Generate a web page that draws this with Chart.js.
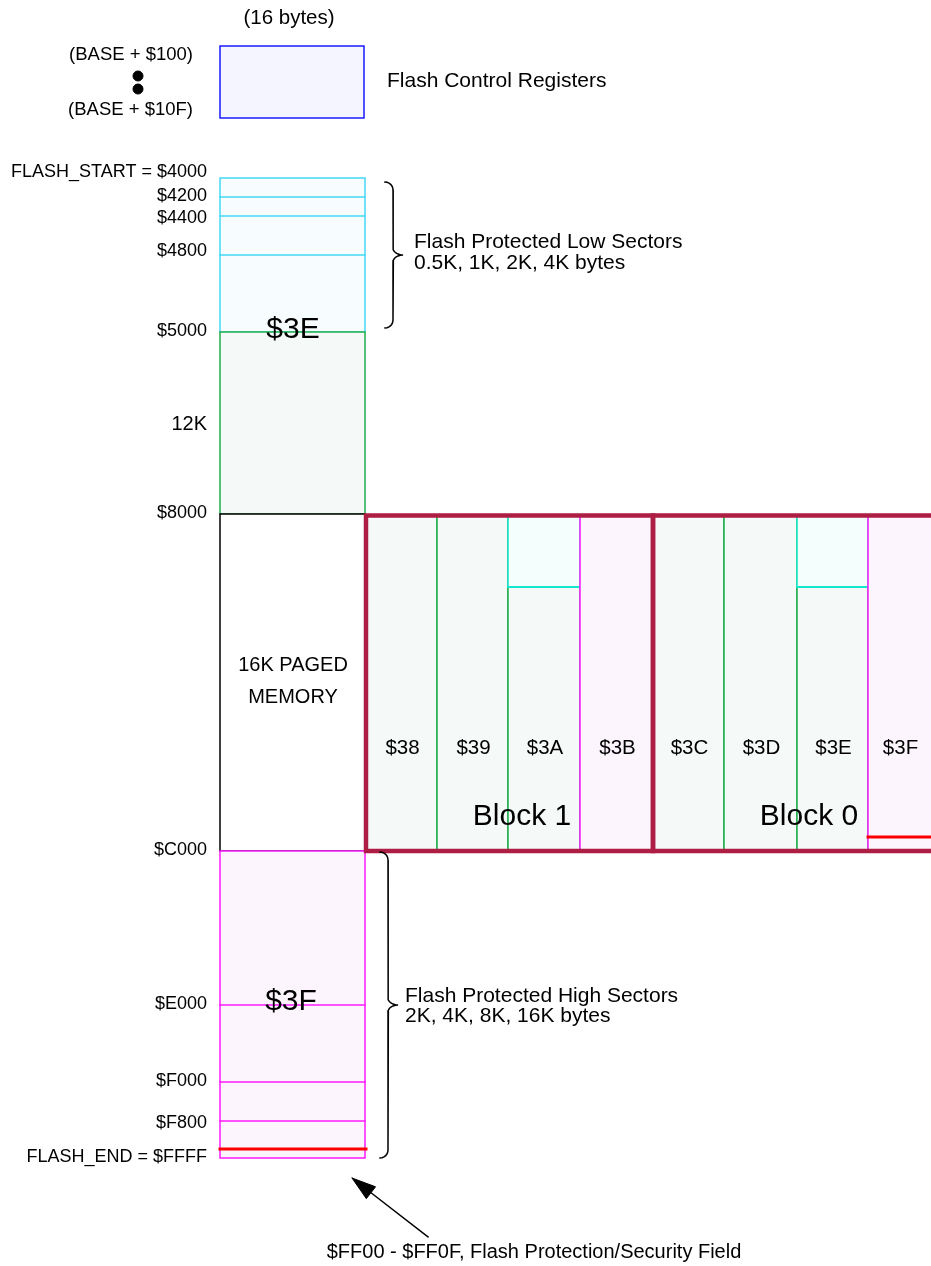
<!DOCTYPE html>
<html>
<head>
<meta charset="utf-8">
<script src="https://cdn.jsdelivr.net/npm/chart.js@4.4.1/dist/chart.umd.min.js"></script>
<style>
    html, body { margin: 0; padding: 0; background: #fff; }
    #wrap { width: 931px; height: 1266px; }
</style>
</head>
<body>
<div id="wrap"><canvas id="map" width="931" height="1266"></canvas></div>
<script>
// Flash memory map - drawn on a 931 x 1266 diagram grid (x right, y down)

// Left column address labels and the rows they sit on
const addrLabels = ['FLASH_START = $4000', '$4200', '$4400', '$4800', '$5000', '12K', '$8000',
    '$C000', '$E000', '$F000', '$F800', 'FLASH_END = $FFFF'];
const addrRows = [172, 196, 218, 251, 331, 424, 513, 850, 1004, 1081, 1123, 1157];

// Sector boundaries of the fixed window
const registerRows = [46, 118];
const lowSectorRows = [178, 197, 216, 255, 332];   // $4000 $4200 $4400 $4800 $5000
const fixedRows = [332, 514];                      // $5000 .. $8000
const pagedRows = [514, 851];                      // $8000 .. $C000
const highSectorRows = [851, 1005, 1082, 1121, 1158]; // $C000 $E000 $F000 $F800 $FFFF
const securityRow = 1149;
const mainCol = [220, 365];

// Paged window pages
const pageNames = ['$38', '$39', '$3A', '$3B', '$3C', '$3D', '$3E', '$3F'];
const pageKinds = ['fixed', 'fixed', 'split', 'high', 'fixed', 'fixed', 'split', 'high'];
const pageEdges = [366, 437, 508, 580, 653, 724, 797, 868, 942];
const pageRows = [516, 851];
const pageSplitRow = 587;
const pageSecurityRow = 837;
const blockNames = ['Block 1', 'Block 0'];
const blockEdges = [366, 653, 942];

const COLORS = {
    blue: '#1a1aff', blueFill: '#f5f5ff',
    cyan: '#45d8f6', cyanFill: '#f7fcfe',
    teal: '#12e6cc', tealFill: '#f4fffd',
    green: '#1fae4e', greenFill: '#f5f9f7',
    magenta: '#ff1aff', magentaFill: '#fdf5fd',
    frame: '#ae1d44',
    red: '#ff0000',
    ink: '#000000'
};
const FONT = '"Liberation Sans", Arial, Helvetica, sans-serif';

// ---- mark builders ----
function box(x0, x1, y0, y1, stroke, fillColor, width) {
    return {
        data: [{x: x0, y: y0}, {x: x1, y: y0}, {x: x1, y: y1}, {x: x0, y: y1}, {x: x0, y: y0}],
        borderColor: stroke || 'rgba(0,0,0,0)',
        borderWidth: width || 1,
        backgroundColor: fillColor || 'rgba(0,0,0,0)',
        fill: fillColor ? 'shape' : false
    };
}

function rule(x0, y0, x1, y1, color, width) {
    return {
        data: [{x: x0, y: y0}, {x: x1, y: y1}],
        borderColor: color,
        borderWidth: width || 1,
        fill: false
    };
}

// curly brace opening to the right, tip at the middle
function brace(left, spine, tipX, top, bottom) {
    const mid = (top + bottom) / 2;
    const r = spine - left, rx = tipX - spine, ry = 7;
    const pts = [];
    const steps = 6;
    for (let i = 0; i <= steps; i++) {
        const a = -Math.PI / 2 + (Math.PI / 2) * i / steps;
        pts.push({x: left + r * Math.cos(a), y: top + r + r * Math.sin(a)});
    }
    for (let i = 0; i <= steps; i++) {
        const a = Math.PI - (Math.PI / 2) * i / steps;
        pts.push({x: tipX + rx * Math.cos(a), y: mid - ry + ry * Math.sin(a)});
    }
    for (let i = 1; i <= steps; i++) {
        const a = 1.5 * Math.PI - (Math.PI / 2) * i / steps;
        pts.push({x: tipX + rx * Math.cos(a), y: mid + ry + ry * Math.sin(a)});
    }
    for (let i = 0; i <= steps; i++) {
        const a = (Math.PI / 2) * i / steps;
        pts.push({x: left + r * Math.cos(a), y: bottom - r + r * Math.sin(a)});
    }
    return {data: pts, borderColor: COLORS.ink, borderWidth: 1.5, fill: false};
}

function arrow(tail, tip, headLen, headHalf) {
    const dx = tip.x - tail.x, dy = tip.y - tail.y;
    const len = Math.hypot(dx, dy);
    const ux = dx / len, uy = dy / len;
    const base = {x: tip.x - ux * headLen, y: tip.y - uy * headLen};
    const head = [
        tip,
        {x: base.x - uy * headHalf, y: base.y + ux * headHalf},
        {x: base.x + uy * headHalf, y: base.y - ux * headHalf},
        tip
    ];
    return [
        {data: [tail, base], borderColor: COLORS.ink, borderWidth: 1.5, fill: false},
        {data: head, borderColor: COLORS.ink, borderWidth: 1, backgroundColor: COLORS.ink, fill: 'shape'}
    ];
}

// ---- assemble marks in painter's order (first = bottom) ----
const marks = [];
const [cx0, cx1] = mainCol;

// register block
marks.push(box(cx0, cx1 - 1, registerRows[0], registerRows[1], COLORS.blue, COLORS.blueFill, 1.5));

// low protected sectors
marks.push(box(cx0, cx1, lowSectorRows[0], lowSectorRows[lowSectorRows.length - 1], COLORS.cyan, COLORS.cyanFill, 1.5));
lowSectorRows.slice(1, -1).forEach(r => marks.push(rule(cx0, r, cx1, r, COLORS.cyan, 1.5)));

// fixed $3E remainder
marks.push(box(cx0, cx1, fixedRows[0], fixedRows[1], COLORS.green, COLORS.greenFill, 1.5));

// paged window
marks.push(box(cx0, cx1, pagedRows[0], pagedRows[1], COLORS.ink, '#ffffff', 1.5));

// high protected sectors ($3F)
marks.push(box(cx0, cx1, highSectorRows[0], highSectorRows[highSectorRows.length - 1], COLORS.magenta, COLORS.magentaFill, 1.5));
highSectorRows.slice(1, -1).forEach(r => marks.push(rule(cx0, r, cx1, r, COLORS.magenta, 1.5)));
marks.push(rule(cx0, securityRow, cx1 + 1, securityRow, COLORS.red, 3));

// pages $38..$3F
pageNames.forEach((name, i) => {
    const x0 = pageEdges[i], x1 = pageEdges[i + 1];
    const kind = pageKinds[i];
    if (kind === 'fixed') {
        marks.push(box(x0, x1, pageRows[0], pageRows[1], COLORS.green, COLORS.greenFill, 1.5));
    } else if (kind === 'split') {
        marks.push(box(x0, x1, pageRows[0], pageSplitRow, COLORS.teal, COLORS.tealFill, 1.5));
        marks.push(box(x0, x1, pageSplitRow, pageRows[1], COLORS.green, COLORS.greenFill, 1.5));
        marks.push(rule(x0, pageSplitRow, x1, pageSplitRow, COLORS.teal, 2));
    } else {
        marks.push(box(x0, x1, pageRows[0], pageRows[1], COLORS.magenta, COLORS.magentaFill, 1.5));
        if (i === pageNames.length - 1) {
            marks.push(rule(x0, pageSecurityRow, x1, pageSecurityRow, COLORS.red, 3));
        }
    }
});

// block frames
blockNames.forEach((name, i) => {
    marks.push(box(blockEdges[i], blockEdges[i + 1], 515.5, pageRows[1], COLORS.frame, null, 4.5));
});

// braces and arrow
marks.push(brace(385, 393, 403, lowSectorRows[0] + 4, lowSectorRows[lowSectorRows.length - 1] - 4));
marks.push(brace(380, 388, 398, highSectorRows[0] + 1, highSectorRows[highSectorRows.length - 1]));
arrow({x: 428, y: 1237}, {x: 352, y: 1178}, 24, 7.5).forEach(m => marks.push(m));

// separator dots between the register addresses
marks.push({
    data: [{x: 138, y: 76}, {x: 138, y: 89}],
    showLine: false,
    pointRadius: 5,
    pointBackgroundColor: COLORS.ink,
    pointBorderColor: COLORS.ink
});

// ---- text ----
const texts = [];
addrLabels.forEach((t, i) => {
    texts.push({text: t, x: 207, y: addrRows[i], size: t === '12K' ? 20 : 18, align: 'right'});
});
texts.push({text: '(BASE + $100)', x: 193, y: 55, size: 18.5, align: 'right'});
texts.push({text: '(BASE + $10F)', x: 193, y: 110, size: 18.5, align: 'right'});
texts.push({text: '(16 bytes)', x: 289, y: 18, size: 20.5, align: 'center'});
texts.push({text: 'Flash Control Registers', x: 387, y: 81, size: 21, align: 'left'});
texts.push({text: 'Flash Protected Low Sectors', x: 414, y: 242, size: 21, align: 'left'});
texts.push({text: '0.5K, 1K, 2K, 4K bytes', x: 414, y: 263, size: 21, align: 'left'});
texts.push({text: 'Flash Protected High Sectors', x: 405, y: 996, size: 21, align: 'left'});
texts.push({text: '2K, 4K, 8K, 16K bytes', x: 405, y: 1016, size: 21, align: 'left'});
texts.push({text: '$3E', x: 293, y: 330, size: 30, align: 'center'});
texts.push({text: '$3F', x: 291, y: 1002, size: 30, align: 'center'});
texts.push({text: '16K PAGED', x: 293, y: 665, size: 20, align: 'center'});
texts.push({text: 'MEMORY', x: 293, y: 697, size: 20, align: 'center'});
pageNames.forEach((t, i) => {
    texts.push({text: t, x: (pageEdges[i] + Math.min(pageEdges[i + 1], 931)) / 2 + 1, y: 748, size: 20.5, align: 'center'});
});
blockNames.forEach((t, i) => {
    texts.push({text: t, x: blockEdges[i] + 156, y: 817, size: 30, align: 'center'});
});
texts.push({text: '$FF00 - $FF0F, Flash Protection/Security Field', x: 534, y: 1252, size: 20, align: 'center'});

const labelPlugin = {
    id: 'mapLabels',
    afterDatasetsDraw(chart) {
        const {ctx, scales: {x, y}} = chart;
        ctx.save();
        ctx.fillStyle = COLORS.ink;
        ctx.textBaseline = 'middle';
        texts.forEach(t => {
            ctx.font = `${t.size}px ${FONT}`;
            ctx.textAlign = t.align;
            ctx.fillText(t.text, x.getPixelForValue(t.x), y.getPixelForValue(t.y));
        });
        ctx.restore();
    }
};

// Chart draws dataset 0 on top, so hand them over top-first
const datasets = marks.slice().reverse().map(m => Object.assign({
    pointRadius: 0,
    pointHoverRadius: 0,
    tension: 0,
    borderJoinStyle: 'miter',
    borderCapStyle: 'square',
    spanGaps: true
}, m));

new Chart(document.getElementById('map'), {
    type: 'line',
    data: {datasets},
    options: {
        responsive: false,
        animation: false,
        devicePixelRatio: 1,
        events: [],
        layout: {padding: 0, autoPadding: false},
        plugins: {
            legend: {display: false},
            tooltip: {enabled: false}
        },
        scales: {
            x: {type: 'linear', min: 0, max: 931, display: false},
            y: {type: 'linear', min: 0, max: 1266, reverse: true, display: false}
        }
    },
    plugins: [labelPlugin]
});
</script>
</body>
</html>
